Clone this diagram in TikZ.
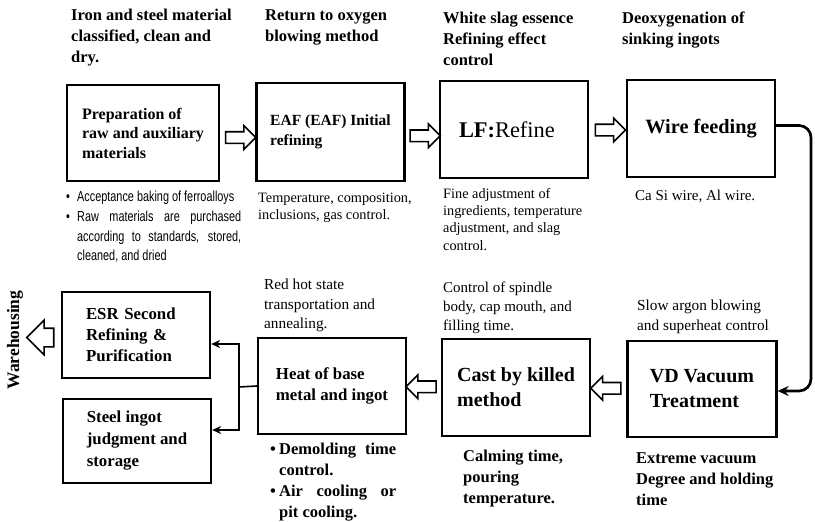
\documentclass[tikz,border=0pt]{standalone}
\usepackage{fontspec}
\setmainfont{Liberation Serif}
\newfontfamily\narrowsans[FakeStretch=0.75]{Liberation Sans}
\usetikzlibrary{calc,shapes.arrows,arrows.meta}

% bullet line with hanging indent
\newcommand{\bitem}[2][10pt]{\noindent\hangindent=#1\hangafter=1\makebox[#1][l]{\textbullet}#2\par}
\newcommand{\nohyph}{\hyphenpenalty=10000\relax\exhyphenpenalty=10000\relax}

\begin{document}
\begin{tikzpicture}[
        x=1pt, y=-1pt,
        box/.style={draw, line width=2.3pt, inner sep=0pt, align=left},
        head/.style={anchor=north west, inner sep=0pt, align=left, font=\fontsize{16.5}{21}\selectfont\bfseries},
        note/.style={anchor=north west, inner sep=0pt, align=left, font=\fontsize{14.3}{17.3}\selectfont},
        upnote/.style={anchor=north west, inner sep=0pt, align=left, font=\fontsize{15.3}{19.5}\selectfont},
        bnote/.style={anchor=north west, inner sep=0pt, align=left, font=\fontsize{16.5}{21}\selectfont\bfseries},
        blockarrow/.style={single arrow, draw, line width=1.6pt, fill=white, inner xsep=0pt, inner ysep=5pt,
            minimum height=30pt, single arrow head extend=6pt},
        flow/.style={draw, line width=2.7pt, rounded corners=12pt, -{Stealth[length=11pt, width=10pt]}},
        branch/.style={draw, line width=1.6pt, -{Stealth[length=9pt, width=8pt]}}
    ]
    \useasboundingbox (0,0) rectangle (815,522);

    % top row
	\node[box, minimum width=152, minimum height=96, font=\fontsize{16}{19.5}\selectfont\bfseries] (prep) at (143,133)
	    {Preparation of\\raw and auxiliary\\materials};
	\node[box, minimum width=148, minimum height=98, font=\fontsize{15.5}{20}\selectfont\bfseries] (eaf) at (330.5,132)
	    {EAF (EAF) Initial\\refining};
	\node[box, text width=110, minimum width=148, minimum height=97, font=\fontsize{22.4}{26}\selectfont] (lf) at (514,129.5)
	    {\textbf{LF:}Refine};
	\node[box, minimum width=148, minimum height=97, font=\fontsize{20.3}{25}\selectfont\bfseries] (wire) at (701,128.5)
	    {Wire feeding};

    % bottom row
	\node[box, minimum width=149, minimum height=96, font=\fontsize{20}{25}\selectfont\bfseries] (vd) at (702,389)
	    {VD Vacuum\\Treatment};
	\node[box, minimum width=148, minimum height=97, font=\fontsize{20}{25}\selectfont\bfseries] (cast) at (516,387.5)
	    {Cast by killed\\method};
	\node[box, minimum width=148, minimum height=96, font=\fontsize{16.8}{21}\selectfont\bfseries] (heat) at (332,386)
	    {Heat of base\\metal and ingot};
	\node[box, text width=100, minimum width=148, minimum height=86, font=\fontsize{16.8}{21}\selectfont\bfseries] (esr) at (136,335)
	    {ESR Second\\Refining \&\\Purification};
	\node[box, minimum width=148, minimum height=84, font=\fontsize{16.8}{22}\selectfont\bfseries] (steel) at (137,441)
	    {Steel ingot\\judgment and\\storage};
	\node[rotate=90, inner sep=0pt, font=\fontsize{17.5}{20}\selectfont\bfseries] (wh) at (15,340) {Warehousing};

    % headings
	\node[head] (hdprep) at (71,9) {Iron and steel material\\classified, clean and\\dry.};
	\node[head] (hdeaf) at (265,9) {Return to oxygen\\blowing method};
	\node[head] (hdlf) at (443,12) {White slag essence\\Refining effect\\control};
	\node[head] (hdwire) at (622,12) {Deoxygenation of\\sinking ingots};

    % notes under the top row
	\node[anchor=north west, inner sep=0pt, text width=175pt, align=justify,
	    font=\narrowsans\fontsize{14.5}{19.7}\selectfont] (ntprep) at (66,191)
	    {\nohyph\bitem[11pt]{Acceptance baking of ferroalloys}\bitem[11pt]{Raw materials are purchased according to standards, stored, cleaned, and dried}};
	\node[note] (nteaf) at (258,193) {Temperature, composition,\\inclusions, gas control.};
	\node[note] (ntlf) at (443,188) {Fine adjustment of\\ingredients, temperature\\adjustment, and slag\\control.};
	\node[note, font=\fontsize{15}{18}\selectfont] (ntwire) at (635,190) {Ca Si wire, Al wire.};

    % notes round the bottom row
	\node[upnote] (ntheat) at (264,279) {Red hot state\\transportation and\\annealing.};
	\node[upnote, font=\fontsize{15}{19}\selectfont] (ntcast) at (443,282) {Control of spindle\\body, cap mouth, and\\filling time.};
	\node[upnote] (ntvd) at (637,300) {Slow argon blowing\\and superheat control};
	\node[bnote, text width=126pt, align=justify] (bnheat) at (270,443)
	    {\bitem[9pt]{Demolding time control.}\bitem[9pt]{Air cooling or pit cooling.}};
	\node[bnote] (bncast) at (463,450) {Calming time,\\pouring\\temperature.};
	\node[bnote] (bnvd) at (636,452) {Extreme vacuum\\Degree and holding\\time};

    % block arrows
	\node[blockarrow, yshift=-5pt] (a1) at ($(prep.east)!.5!(eaf.west)$) {};
	\node[blockarrow, yshift=-5pt] (a2) at ($(eaf.east)!.5!(lf.west)$) {};
	\node[blockarrow, yshift=-1pt] (a3) at ($(lf.east)!.5!(wire.west)$) {};
	\node[blockarrow, shape border rotate=180] (a4) at ($(vd.west)!.5!(cast.east)$) {};
	\node[blockarrow, shape border rotate=180] (a5) at ($(cast.west)!.5!(heat.east)$) {};
	\node[blockarrow, shape border rotate=180, inner ysep=8.5pt, single arrow head extend=8pt,
	    minimum height=27pt, xshift=7pt] (a6) at ($(wh.center)!.5!(esr.west)$) {};

    % connectors
	\coordinate (turn) at (811,0);
	\coordinate (split) at (239,387);
	\draw[flow] ([yshift=3pt]wire.east) -- ([yshift=3pt]wire.east -| turn) |- ([yshift=-2pt]vd.east);
	\draw[line width=1.6pt] (heat.west) -- (split);
	\draw[branch] (split) |- ([yshift=-9pt]esr.east);
	\draw[branch] (split) |- ([yshift=11pt]steel.east);

\end{tikzpicture}
\end{document}
